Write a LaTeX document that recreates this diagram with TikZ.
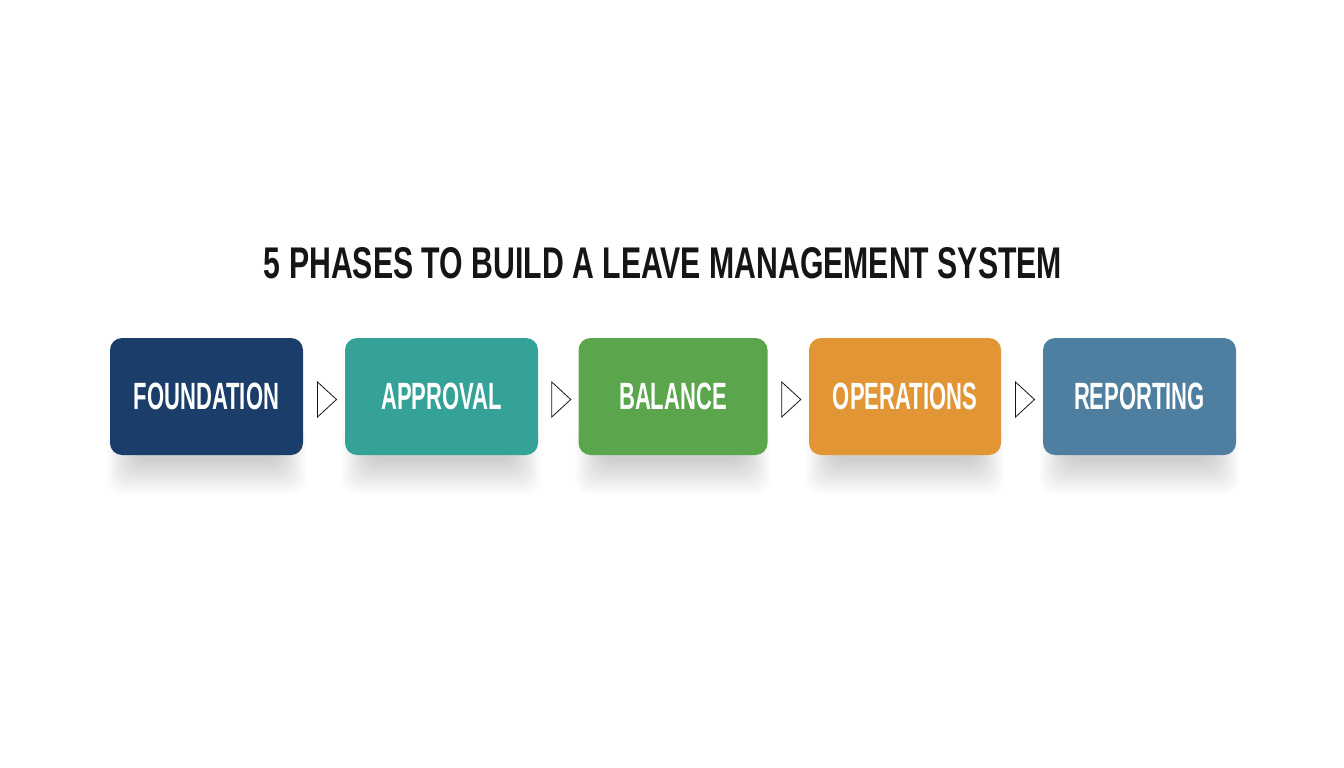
\documentclass[tikz,border=0pt]{standalone}
\usepackage{fontspec}
\setmainfont{Liberation Sans}
\usetikzlibrary{calc,backgrounds}
\definecolor{cA}{HTML}{1B3D6A}
\definecolor{cB}{HTML}{34A297}
\definecolor{cC}{HTML}{5BA64D}
\definecolor{cD}{HTML}{E29535}
\definecolor{cE}{HTML}{4F7FA0}
\definecolor{ink}{HTML}{151515}
\newcommand{\boxlabel}[1]{\scalebox{0.58}[1]{\fontsize{38pt}{40pt}\selectfont\bfseries #1}}
\begin{document}
\begin{tikzpicture}[x=1pt,y=-1pt,
  phase/.style={rounded corners=12pt, minimum width=193pt, minimum height=117pt,
    inner sep=0pt, text=white},
  tri/.style={draw=ink, line width=0.8pt, fill=white, line join=miter},
  shade/.style={fill=black, opacity=0.011, rounded corners=14pt}]
\useasboundingbox (0,0) rectangle (1344,768);
\node[text=ink, inner sep=0pt] (title) at (663,263.5)
  {\resizebox{798pt}{31pt}{\bfseries 5 PHASES TO BUILD A LEAVE MANAGEMENT SYSTEM}};
\node[phase, fill=cA] (b1) at (206.5,396.5) {\boxlabel{FOUNDATION}};
\node[phase, fill=cB] (b2) at (441.5,396.5) {\boxlabel{APPROVAL}};
\node[phase, fill=cC, minimum width=189pt] (b3) at (673,396.5) {\boxlabel{BALANCE}};
\node[phase, fill=cD, minimum width=192pt] (b4) at (905,396.5) {\boxlabel{OPERATIONS}};
\node[phase, fill=cE] (b5) at (1139.5,396.5) {\boxlabel{REPORTING}};
\begin{scope}[on background layer]
\fill[white] (0,0) rectangle (1344,768);
\foreach \b in {b1,b2,b3,b4,b5}{
  \foreach \k in {0,...,15}{
    \fill[shade] ($(\b.south west)+(24-\k*1.8,-30)$) rectangle ($(\b.south east)+(-24+\k*1.8,6+\k*2.2)$);
  }
}
\end{scope}
\foreach \a/\b [count=\i] in {b1/b2,b2/b3,b3/b4,b4/b5}{
  \coordinate (m\i) at ($(\a.east)!0.5!(\b.west)+(3,3)$);
  \draw[tri] ($(m\i)+(-9.5,-17.5)$) -- ($(m\i)+(9.5,0)$) -- ($(m\i)+(-9.5,17.5)$) -- cycle;
}
\end{tikzpicture}
\end{document}
